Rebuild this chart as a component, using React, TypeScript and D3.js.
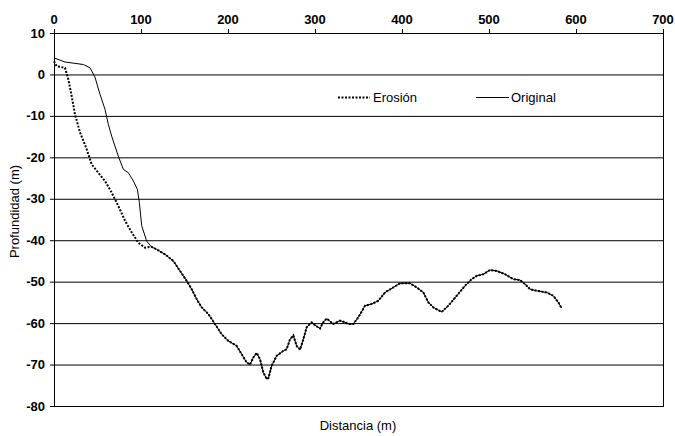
import React from "react";
import * as d3 from "d3";

const xTicks = [0, 100, 200, 300, 400, 500, 600, 700];
const yTicks = [10, 0, -10, -20, -30, -40, -50, -60, -70, -80];

const originalHeadDist = [0, 12.6, 33.7, 41.4, 47, 52.9, 58.6, 62.4, 66.3, 73.9, 79.7, 85.4, 91.2, 95.8, 98.1, 100.8, 106.5, 112];
const originalHeadDepth = [4.0, 3.0, 2.4, 1.6, -0.6, -4.8, -8.4, -12, -14.9, -19.7, -22.9, -23.7, -25.7, -27.7, -30.9, -36.5, -40.2, -41.6];

const erosionHeadDist = [0, 3, 12.6, 16.5, 20.3, 24.1, 29.9, 37.5, 43.3, 50.9, 58.6, 66.3, 73.9, 81.6, 89.3, 96.9, 104.6, 112];
const erosionHeadDepth = [3.2, 2.0, 1.6, -1.2, -5.2, -9.6, -14, -18, -21.7, -23.7, -25.7, -28.5, -31.7, -35.3, -38.1, -40.6, -41.8, -41.6];

const commonDist = [118, 127.6, 137.2, 144.8, 152.5, 158.2, 164, 169.7, 177.4, 185, 192.7, 200.4, 210, 215.7, 221.5, 225.3, 229.1, 233, 236.8, 240.6, 244.5, 246.4, 250.2, 255.9, 263.6, 267.4, 271.3, 275.1, 278.9, 282.8, 286.6, 290.4, 296.2, 300, 305.7, 309.5, 313.4, 321, 328.7, 334.5, 338.3, 344, 349.8, 357.5, 365.1, 372.8, 380.5, 390, 397.7, 409.2, 416.9, 424.5, 430.3, 436, 445.6, 453.3, 462.9, 472.4, 480.1, 485.8, 493.5, 501.1, 508.8, 518.4, 528, 535.6, 541.4, 547.1, 554.8, 566.3, 573.9, 579.7, 583.5];
const commonDepth = [-42.2, -43.4, -45, -47.4, -49.8, -51.8, -54.2, -56.2, -57.8, -60.2, -62.7, -64.3, -65.5, -67.5, -69.5, -70, -68.3, -67.2, -68.7, -71.9, -73.5, -73.3, -70.3, -67.9, -66.7, -66.3, -63.9, -63, -65.5, -66.4, -63.9, -61, -59.8, -60.5, -61.3, -59.8, -58.9, -60.2, -59.4, -59.8, -60.2, -60.2, -58.6, -55.8, -55.4, -54.6, -52.6, -51.4, -50.4, -50.4, -51.4, -52.6, -55, -56.2, -57.3, -55.8, -53.4, -51, -49.4, -48.6, -48.2, -47.2, -47.4, -48.2, -49.4, -49.6, -50.6, -51.8, -52.2, -52.6, -53.4, -55, -56.4];

const seriesNames = ["Erosión", "Original"];

const W = 675;
const H = 436;
const left = 54;
const right = 663;
const top = 33;
const bottom = 406;

export default function App() {
  const x = d3.scaleLinear().domain([0, 700]).range([left, right]);
  const y = d3.scaleLinear().domain([10, -80]).range([top, bottom]);
  const line = d3
    .line<[number, number]>()
    .x((d) => x(d[0]))
    .y((d) => y(d[1]));

  const original: [number, number][] = [
    ...originalHeadDist.map((d, i) => [d, originalHeadDepth[i]] as [number, number]),
    ...commonDist.map((d, i) => [d, commonDepth[i]] as [number, number]),
  ];
  const erosion: [number, number][] = [
    ...erosionHeadDist.map((d, i) => [d, erosionHeadDepth[i]] as [number, number]),
    ...commonDist.map((d, i) => [d, commonDepth[i]] as [number, number]),
  ];

  const font = "'Liberation Sans Narrow', 'Liberation Sans', Arial, sans-serif";

  return (
    <svg
      width={W}
      height={H}
      style={{ position: "absolute", left: 0, top: 0, background: "#fff" }}
      fontFamily={font}
    >
      {/* gridlines */}
      {yTicks
        .filter((t) => t < 10 && t > -80)
        .map((t) => (
          <line key={"g" + t} x1={left} x2={right} y1={y(t) + 0.5} y2={y(t) + 0.5} stroke="#000" strokeWidth={1} />
        ))}
      {/* frame */}
      <rect x={left + 0.5} y={top + 0.5} width={right - left} height={bottom - top} fill="none" stroke="#000" strokeWidth={1} />
      {/* top axis ticks */}
      {xTicks.map((t) => (
        <g key={"x" + t}>
          <line x1={x(t) + 0.5} x2={x(t) + 0.5} y1={top - 4} y2={top + 0.5} stroke="#000" />
          <text x={x(t)} y={top - 9} textAnchor="middle" fontSize={13} fontWeight="bold">
            {t}
          </text>
        </g>
      ))}
      {/* left axis ticks */}
      {yTicks.map((t) => (
        <g key={"y" + t}>
          <line x1={left - 4} x2={left + 0.5} y1={y(t) + 0.5} y2={y(t) + 0.5} stroke="#000" />
          <text x={left - 9} y={y(t) + 4.5} textAnchor="end" fontSize={13} fontWeight="bold">
            {t}
          </text>
        </g>
      ))}
      {/* series */}
      <path d={line(original) || ""} fill="none" stroke="#000" strokeWidth={1} />
      <path d={line(erosion) || ""} fill="none" stroke="#000" strokeWidth={2} strokeDasharray="2,1.5" />
      {/* legend */}
      <line x1={338} x2={370} y1={97.5} y2={97.5} stroke="#000" strokeWidth={2} strokeDasharray="2,1.5" />
      <text x={373} y={102} fontSize={13}>{seriesNames[0]}</text>
      <line x1={476} x2={509} y1={97.5} y2={97.5} stroke="#000" strokeWidth={1} />
      <text x={511} y={102} fontSize={13}>{seriesNames[1]}</text>
      {/* axis titles */}
      <text x={358} y={430} textAnchor="middle" fontSize={13}>
        Distancia (m)
      </text>
      <text transform={`translate(19,${(top + bottom) / 2 - 8}) rotate(-90)`} textAnchor="middle" fontSize={13}>
        Profundidad (m)
      </text>
    </svg>
  );
}
